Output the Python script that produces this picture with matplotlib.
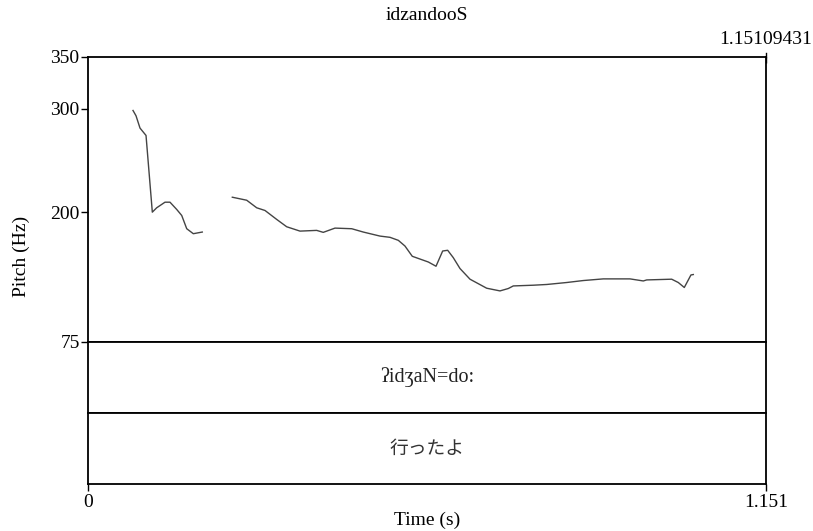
import matplotlib.pyplot as plt
import numpy as np

plt.rcParams['font.family'] = ['Liberation Serif', 'DejaVu Serif']

# pitch track, two voiced stretches (time in s, pitch in Hz)
t1 = [0.0764, 0.0815, 0.0883, 0.0985, 0.1092, 0.1166, 0.1307, 0.1392, 0.1506,
      0.1591, 0.1676, 0.1788, 0.1940]
f1 = [298.4, 293.3, 281.4, 274.3, 200.3, 204.5, 209.9, 209.9, 202.9,
      197.1, 184.3, 179.5, 181.1]

t2 = [0.2450, 0.2694, 0.2864, 0.3005, 0.3203, 0.3373, 0.3599, 0.3882, 0.3994,
      0.4193, 0.4477, 0.4673, 0.4957, 0.5127, 0.5268, 0.5381, 0.5505, 0.5777,
      0.5908, 0.6021, 0.6106, 0.6201, 0.6315, 0.6485, 0.6768, 0.6994, 0.7135,
      0.7220, 0.7560, 0.7787, 0.8126, 0.8408, 0.8748, 0.9201, 0.9427, 0.9485,
      0.9909, 1.0021, 1.0123, 1.0236, 1.0276]
f2 = [214.7, 211.8, 204.5, 201.9, 193.3, 186.2, 182.0, 182.7, 180.8,
      184.9, 184.3, 181.1, 177.2, 176.0, 173.1, 167.6, 157.7, 152.2,
      148.1, 162.8, 163.5, 156.4, 145.9, 135.6, 126.9, 124.3, 126.6,
      129.1, 129.8, 130.5, 132.4, 134.3, 135.9, 135.9, 133.9, 134.9,
      135.6, 132.4, 127.6, 139.7, 140.1]

duration = 1.151
total_dur = '1.15109431'
yticks = [75, 200, 300, 350]
title = 'idzandooS'
tier1 = 'ʔidʒaN=do:'
tier2 = '行ったよ'

FS = 14
fig = plt.figure(figsize=(8.13, 5.31), dpi=100)
W, H = 813, 531
def box(top, bottom):
    return [88 / W, 1 - bottom / H, 678 / W, (bottom - top) / H]

ax = fig.add_axes(box(57, 342))
ax.plot(t1, f1, color='#444444', lw=1)
ax.plot(t2, f2, color='#444444', lw=1)
ax.set_xlim(0, duration)
ax.set_ylim(75, 350)
ax.set_yticks(yticks)
ax.set_xticks([duration])
ax.set_xticklabels([])
ax.tick_params(axis='x', direction='in', top=True, bottom=False, length=4, width=1)
ax.tick_params(axis='y', length=5, width=1, labelsize=FS, pad=1)
for s in ax.spines.values():
    s.set_linewidth(1.3)
# small tick pointing up at the right end of the top edge
ax.plot([duration, duration], [350, 354], color='black', lw=1, clip_on=False)

ax1 = fig.add_axes(box(342, 413))
ax1.set_xlim(0, duration)
ax1.set_xticks([]); ax1.set_yticks([])
ax1.text(0.5, 0.5, tier1, transform=ax1.transAxes, ha='center', va='center',
         fontsize=FS + 0.5, color='#222222')

ax2 = fig.add_axes(box(413, 484))
ax2.set_xlim(0, duration)
ax2.set_xticks([0, duration])
ax2.set_xticklabels(['0', '1.151'])
ax2.set_yticks([])
ax2.tick_params(axis='x', length=5, width=1, labelsize=FS, pad=2)
ax2.text(0.5, 0.5, tier2, transform=ax2.transAxes, ha='center', va='center',
         fontsize=FS - 0.5, family=['Noto Sans CJK JP', 'DejaVu Sans'], color='#333333')
ax2.set_xlabel('Time (s)', fontsize=FS, labelpad=1)
for a in (ax1, ax2):
    for s in a.spines.values():
        s.set_linewidth(1.3)

fig.text(427 / W, 1 - 15 / H, title, ha='center', va='center', fontsize=FS)
fig.text(766 / W, 1 - 40 / H, total_dur, ha='center', va='center', fontsize=FS)
fig.text(21 / W, 1 - 256 / H, 'Pitch (Hz)', rotation=90, ha='center', va='center', fontsize=FS)

fig.savefig('out.png', dpi=100)
